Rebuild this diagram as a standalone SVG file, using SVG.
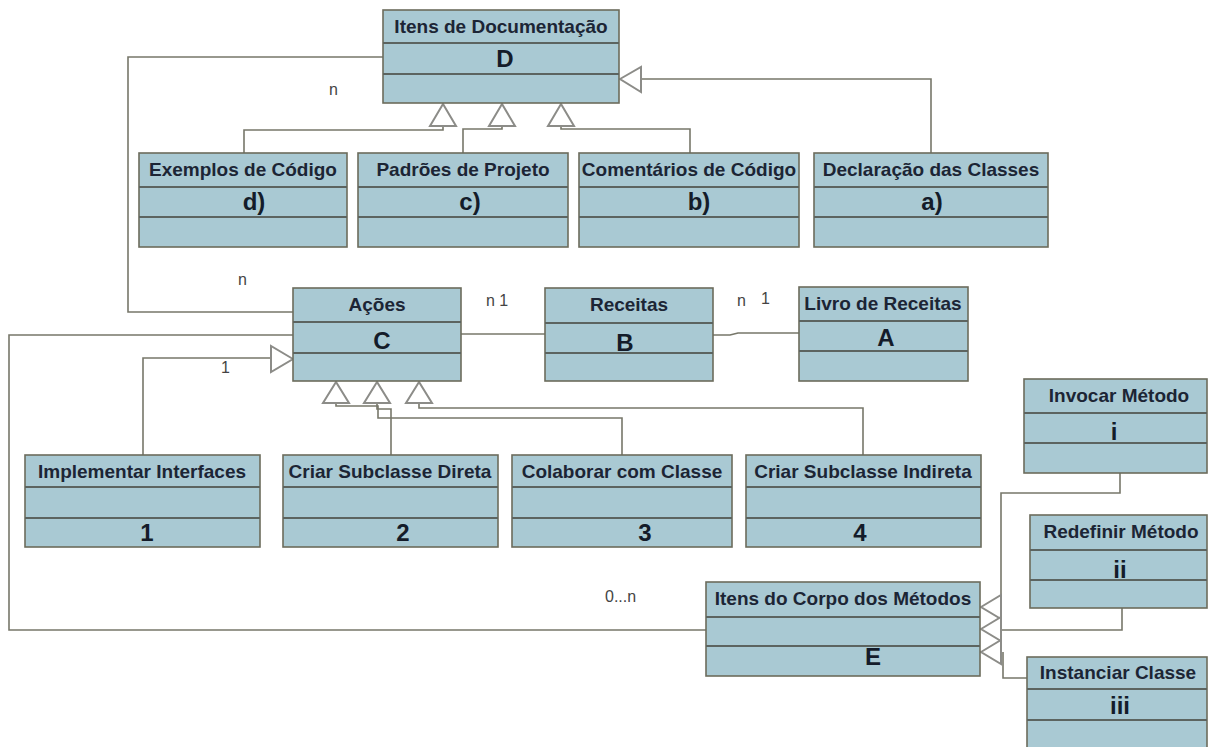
<svg xmlns="http://www.w3.org/2000/svg" width="1208" height="747" viewBox="0 0 1208 747">
  <style>
    .box { fill: #a9c9d3; stroke: #6c6c5c; stroke-width: 1.6; }
    .div { stroke: #5c6460; stroke-width: 2; }
    .hd { font-family: "Liberation Sans", Arial, sans-serif; font-weight: bold; font-size: 19px; fill: #1c2535; text-anchor: middle; }
    .big { font-family: "Liberation Sans", Arial, sans-serif; font-weight: bold; font-size: 24px; fill: #141c2a; text-anchor: middle; }
    .lbl { font-family: "Liberation Sans", Arial, sans-serif; font-size: 16px; fill: #444444; }
    .ln { fill: none; stroke: #77776a; stroke-width: 1.6; }
    .tri { fill: #ffffff; stroke: #8c8c88; stroke-width: 2; }
  </style>

  <rect width="1208" height="747" fill="#ffffff"/>

  <!-- connectors -->
  <g id="connectors">
    <!-- D to Ações association -->
    <path class="ln" d="M383,57 H128 V312 H293"/>
    <!-- generalisations to Itens de Documentação -->
    <path class="ln" d="M244,153 V130 H443 V126"/>
    <path class="ln" d="M463,153 V129 H502 V126"/>
    <path class="ln" d="M690,153 V129 H561 V126"/>
    <path class="ln" d="M931,153 V79 H641"/>
    <polygon class="tri" points="443,104 430,126 456,126"/>
    <polygon class="tri" points="502,104 489,126 515,126"/>
    <polygon class="tri" points="561,104 548,126 574,126"/>
    <polygon class="tri" points="620,79 641,67 641,92"/>

    <!-- Ações - Receitas - Livro de Receitas -->
    <path class="ln" d="M461,334 H545"/>
    <path class="ln" d="M713,335 H730 L738,333 H799"/>

    <!-- Ações to Itens do Corpo dos Métodos -->
    <path class="ln" d="M293,335 H9 V630 H706"/>

    <!-- Implementar Interfaces to Ações -->
    <path class="ln" d="M143,455 V358 H271"/>
    <polygon class="tri" points="293,359 271,346 271,372"/>

    <!-- subclasses to Ações -->
    <path class="ln" d="M622,455 V418 H378 V406 H336 V403"/>
    <path class="ln" d="M391,455 V409 H377 V403"/>
    <path class="ln" d="M863,455 V408 H419 V403"/>
    <polygon class="tri" points="336,382 323,403 349,403"/>
    <polygon class="tri" points="377,382 364,403 390,403"/>
    <polygon class="tri" points="419,382 406,403 432,403"/>

    <!-- method body items to Itens do Corpo dos Métodos -->
    <path class="ln" d="M1120,473 V493 H1001 V607"/>
    <path class="ln" d="M1122,608 V630 H1001"/>
    <path class="ln" d="M1027,678 H1003 V652"/>
    <polygon class="tri" points="981,607 1001,595 1001,619"/>
    <polygon class="tri" points="981,629 1001,617 1001,641"/>
    <polygon class="tri" points="981,652 1001,640 1001,664"/>

    <!-- multiplicities -->
    <text class="lbl" x="329" y="95">n</text>
    <text class="lbl" x="238" y="285">n</text>
    <text class="lbl" x="486" y="306">n 1</text>
    <text class="lbl" x="737" y="306">n</text>
    <text class="lbl" x="761" y="304">1</text>
    <text class="lbl" x="221" y="373">1</text>
    <text class="lbl" x="605" y="602">0...n</text>
  </g>

  <!-- Itens de Documentação -->
  <g id="node-D">
    <rect class="box" x="383" y="10" width="236" height="93"/>
    <line class="div" x1="383" y1="43" x2="619" y2="43"/>
    <line class="div" x1="383" y1="74" x2="619" y2="74"/>
    <text class="hd" x="501" y="33">Itens de Documentação</text>
    <text class="big" x="505" y="67">D</text>
  </g>

  <g id="node-d">
    <rect class="box" x="139" y="153" width="208" height="94"/>
    <line class="div" x1="139" y1="187" x2="347" y2="187"/>
    <line class="div" x1="139" y1="217" x2="347" y2="217"/>
    <text class="hd" x="243" y="176">Exemplos de Código</text>
    <text class="big" x="254" y="210">d)</text>
  </g>

  <g id="node-c">
    <rect class="box" x="358" y="153" width="210" height="94"/>
    <line class="div" x1="358" y1="187" x2="568" y2="187"/>
    <line class="div" x1="358" y1="217" x2="568" y2="217"/>
    <text class="hd" x="463" y="176">Padrões de Projeto</text>
    <text class="big" x="470" y="210">c)</text>
  </g>

  <g id="node-b">
    <rect class="box" x="579" y="153" width="220" height="94"/>
    <line class="div" x1="579" y1="187" x2="799" y2="187"/>
    <line class="div" x1="579" y1="217" x2="799" y2="217"/>
    <text class="hd" x="689" y="176">Comentários de Código</text>
    <text class="big" x="699" y="210">b)</text>
  </g>

  <g id="node-a">
    <rect class="box" x="814" y="153" width="234" height="94"/>
    <line class="div" x1="814" y1="187" x2="1048" y2="187"/>
    <line class="div" x1="814" y1="217" x2="1048" y2="217"/>
    <text class="hd" x="931" y="176">Declaração das Classes</text>
    <text class="big" x="932" y="210">a)</text>
  </g>

  <!-- Ações / Receitas / Livro de Receitas -->
  <g id="node-C">
    <rect class="box" x="293" y="288" width="168" height="93"/>
    <line class="div" x1="293" y1="322" x2="461" y2="322"/>
    <line class="div" x1="293" y1="353" x2="461" y2="353"/>
    <text class="hd" x="377" y="311">Ações</text>
    <text class="big" x="382" y="349">C</text>
  </g>

  <g id="node-B">
    <rect class="box" x="545" y="288" width="168" height="93"/>
    <line class="div" x1="545" y1="323" x2="713" y2="323"/>
    <line class="div" x1="545" y1="353" x2="713" y2="353"/>
    <text class="hd" x="629" y="311">Receitas</text>
    <text class="big" x="625" y="351">B</text>
  </g>

  <g id="node-A">
    <rect class="box" x="799" y="287" width="169" height="94"/>
    <line class="div" x1="799" y1="321" x2="968" y2="321"/>
    <line class="div" x1="799" y1="351" x2="968" y2="351"/>
    <text class="hd" x="883" y="310">Livro de Receitas</text>
    <text class="big" x="886" y="346">A</text>
  </g>

  <!-- action kinds -->
  <g id="node-1">
    <rect class="box" x="25" y="455" width="235" height="92"/>
    <line class="div" x1="25" y1="487" x2="260" y2="487"/>
    <line class="div" x1="25" y1="518" x2="260" y2="518"/>
    <text class="hd" x="142" y="478">Implementar Interfaces</text>
    <text class="big" x="147" y="541">1</text>
  </g>

  <g id="node-2">
    <rect class="box" x="283" y="455" width="215" height="92"/>
    <line class="div" x1="283" y1="487" x2="498" y2="487"/>
    <line class="div" x1="283" y1="518" x2="498" y2="518"/>
    <text class="hd" x="390" y="478">Criar Subclasse Direta</text>
    <text class="big" x="403" y="541">2</text>
  </g>

  <g id="node-3">
    <rect class="box" x="512" y="455" width="220" height="92"/>
    <line class="div" x1="512" y1="487" x2="732" y2="487"/>
    <line class="div" x1="512" y1="518" x2="732" y2="518"/>
    <text class="hd" x="622" y="478">Colaborar com Classe</text>
    <text class="big" x="645" y="541">3</text>
  </g>

  <g id="node-4">
    <rect class="box" x="746" y="455" width="235" height="92"/>
    <line class="div" x1="746" y1="487" x2="981" y2="487"/>
    <line class="div" x1="746" y1="518" x2="981" y2="518"/>
    <text class="hd" x="863" y="478">Criar Subclasse Indireta</text>
    <text class="big" x="860" y="541">4</text>
  </g>

  <!-- method body items -->
  <g id="node-E">
    <rect class="box" x="706" y="582" width="274" height="94"/>
    <line class="div" x1="706" y1="617" x2="980" y2="617"/>
    <line class="div" x1="706" y1="646" x2="980" y2="646"/>
    <text class="hd" x="843" y="605">Itens do Corpo dos Métodos</text>
    <text class="big" x="873" y="665">E</text>
  </g>

  <g id="node-i">
    <rect class="box" x="1024" y="379" width="183" height="94"/>
    <line class="div" x1="1024" y1="413" x2="1207" y2="413"/>
    <line class="div" x1="1024" y1="443" x2="1207" y2="443"/>
    <text class="hd" x="1119" y="402">Invocar Método</text>
    <text class="big" x="1114" y="440">i</text>
  </g>

  <g id="node-ii">
    <rect class="box" x="1030" y="515" width="177" height="93"/>
    <line class="div" x1="1030" y1="550" x2="1207" y2="550"/>
    <line class="div" x1="1030" y1="580" x2="1207" y2="580"/>
    <text class="hd" x="1121" y="538">Redefinir Método</text>
    <text class="big" x="1120" y="578">ii</text>
  </g>

  <g id="node-iii">
    <rect class="box" x="1027" y="657" width="180" height="94"/>
    <line class="div" x1="1027" y1="689" x2="1207" y2="689"/>
    <line class="div" x1="1027" y1="720" x2="1207" y2="720"/>
    <text class="hd" x="1118" y="679">Instanciar Classe</text>
    <text class="big" x="1120" y="714">iii</text>
  </g>
</svg>
